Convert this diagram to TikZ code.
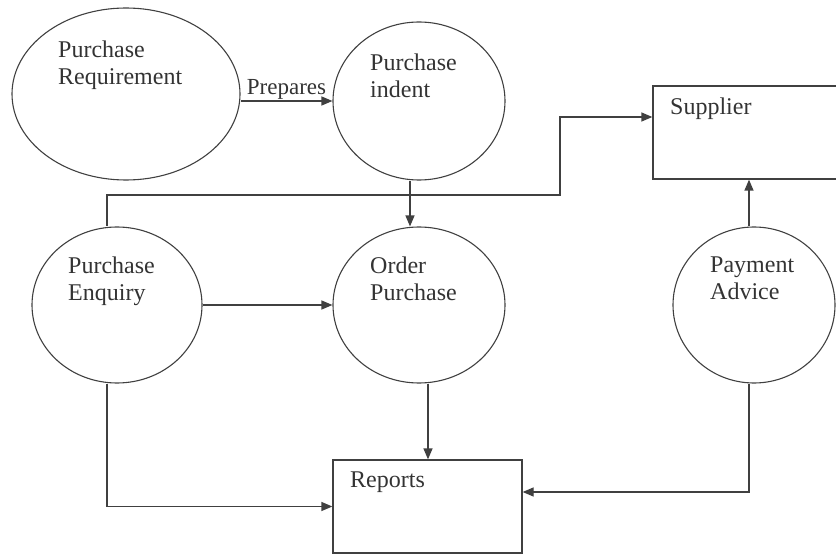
\documentclass[tikz,border=0pt]{standalone}
\usepackage{fontspec}
\setmainfont{Liberation Serif}
\usetikzlibrary{shapes.geometric,arrows.meta}
\tikzset{
  proc/.style={ellipse, draw=black!75, line width=1.1pt, inner sep=0pt},
  store/.style={rectangle, draw=black!75, line width=1.3pt, inner sep=0pt},
  txt/.style={anchor=north west, inner sep=0pt, align=left, text=black!80,
    font=\fontsize{24}{27}\selectfont},
  flow/.style={draw=black!75, line width=1.3pt, -{Triangle[length=11pt,width=9pt]}}
}
\begin{document}
\begin{tikzpicture}[x=1pt,y=-1pt]
\clip (0,0) rectangle (836,556);
% processes
\node[proc, minimum width=228pt, minimum height=172pt] (req) at (126,94){};
\node[proc, minimum width=172pt, minimum height=158pt] (ind) at (419,101){};
\node[proc, minimum width=170pt, minimum height=156pt] (enq) at (117,305){};
\node[proc, minimum width=172pt, minimum height=156pt] (ord) at (419,305){};
\node[proc, minimum width=162pt, minimum height=156pt] (pay) at (754,305){};
% stores
\node[store, minimum width=210pt, minimum height=93pt] (sup) at (758,132.5){};
\node[store, minimum width=189pt, minimum height=93pt] (rep) at (427.5,506.5){};
% texts
\node[txt] (reqtxt) at (58,41) {Purchase\\Requirement};
\node[txt] (indtxt) at (370,54) {Purchase\\indent};
\node[txt] (enqtxt) at (68,257) {Purchase\\Enquiry};
\node[txt] (ordtxt) at (370,257) {Order\\Purchase};
\node[txt] (paytxt) at (710,257) {Payment\\Advice};
\node[txt] (suptxt) at (670,98) {Supplier};
\node[txt] (reptxt) at (350,472) {Reports};
% flows
\coordinate (j1) at (560,195);
\coordinate (j2) at (560,117);
\draw[flow] (req.east |- ind.west) -- node[above, inner sep=0.5pt, text=black!80,
  font=\fontsize{23}{26}\selectfont] (prep) {Prepares} (ind.west);
\draw[flow] ([xshift=-9pt]ind.south) -- ([xshift=-9pt]ind.south |- ord.north);
\draw[flow] ([xshift=-10pt]enq.north) |- (j1) -- (j2) -- (j2 -| sup.west);
\draw[flow] (enq.east) -- (ord.west);
\draw[flow] ([xshift=9pt]ord.south) -- ([xshift=9pt]ord.south |- rep.north);
\draw[flow] ([xshift=-10pt]enq.south) |- (rep.west);
\draw[flow] ([xshift=-5pt]pay.north) -- ([xshift=-5pt]pay.north |- sup.south);
\draw[flow] ([xshift=-5pt]pay.south) |- ([yshift=14.5pt]rep.east);

\end{tikzpicture}
\end{document}
